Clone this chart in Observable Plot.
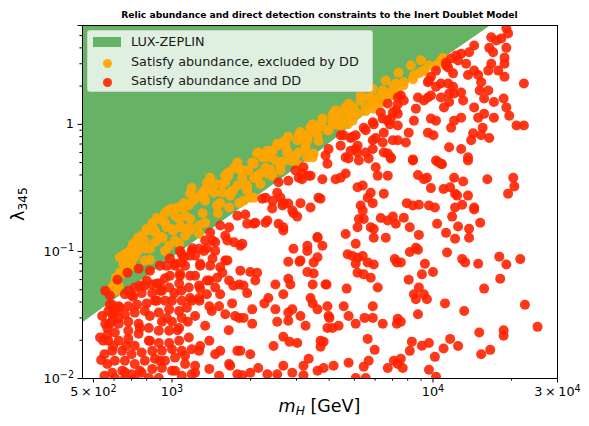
<!DOCTYPE html>
<html><head><meta charset="utf-8">
<script src="https://cdn.jsdelivr.net/npm/d3@7"></script>
<script src="https://cdn.jsdelivr.net/npm/@observablehq/plot@0.6"></script>
<style>
body{margin:0;background:#fff;font-family:"DejaVu Sans",sans-serif;}
#wrap{position:relative;width:589px;height:426px;overflow:hidden;}
#chart{position:absolute;left:0;top:0;}
#chart svg text{font-size:12.8px;font-family:"DejaVu Sans",sans-serif;}
#title{position:absolute;left:82px;width:475px;top:9px;text-align:center;font-weight:bold;font-size:9.2px;color:#000;white-space:nowrap;}
#xlabel{position:absolute;left:82px;width:475px;top:396px;text-align:center;font-size:17.5px;color:#000;white-space:nowrap;}
#ylabel{position:absolute;left:19px;top:204px;transform:translate(-50%,-50%) rotate(-90deg);font-size:17.5px;color:#000;white-space:nowrap;}
sub{font-size:70%;vertical-align:-0.25em;}
#legend{position:absolute;left:87px;top:30px;width:284px;height:60px;background:rgba(255,255,255,0.8);border:1px solid rgba(204,204,204,0.8);border-radius:3px;}
.lrow{position:absolute;left:43px;font-size:12.8px;color:#1a1a1a;white-space:nowrap;line-height:1;}
.patch{position:absolute;left:5px;top:6px;width:28px;height:10px;background:#66b366;}
.dotm{position:absolute;width:9px;height:9px;border-radius:50%;left:15px;}
</style></head><body>
<div id="wrap">
<div id="chart"></div>
<div id="title">Relic abundance and direct detection constraints to the Inert Doublet Model</div>
<div id="xlabel"><i>m</i><sub><i>H</i></sub> [GeV]</div>
<div id="ylabel">λ<sub>345</sub></div>
<div id="legend"></div>
</div>
<script>
// LUX-ZEPLIN excluded region boundary (lower edge)
const luxMass   = [454, 1282, 3710, 6310, 16700];
const luxLambda = [0.0273, 0.128, 0.62, 1.5, 6];

// Satisfy abundance, excluded by DD (orange)
const orangeMass = [
660,720,787,700,645,604,625,
1880,1940,1995,1860,1960,2060,2085,2180,2280,2240,2382,2490,2530,2720,2760,2843,3060,3106,3250,3340,3460,3640,3770,3940,4120,4236,4427,4628,4710,4920,5140,5284,5524,5774,5930,6200,6480,3250,3460,1940,2180,2420,2602,
1780,1730,1655,1600,1400,1360,1190,1282,1450,1560,1671,1780,1810,1655,1490,1340,1310,1270,1270,1160,1090,1122,1065,1000,940,915,1000,915,840,800,765,735,700,672,720,823,975,1065,1122,1173,1090,860,1600,
2120,2320,2760,3020,3300,3490,2602,2320,2060,1880,1630,1560,1710,1940,2060,1530,1430,1325,1173,610,650,710,740,800,840,875,965,1050,1110,1200,1325,631,700,740,787,860,920,1010,1073,1173,955,899,610,590,
6420,7080,7330,5670,5930,4970,4550,4160,4760,4120,3708,3394,3106,3020,2790,2670,2530,2320,2140,3300,3610,4300,
7205,7730,8450,8830,9230,9650,10940,6420,6893,10270,10730,
660,720,787,860,940,1027,1122,1226,1340,1464,1640,1827,2030,2220,2430,2720,3060,3394,3770,4236,4760,5284,5880,6595,7370,8228,8990,
1671,1910,2130,2382,2650,2970,3250,3640,3980,4427,4920,5524,6200,6893,7700,8380,9150,823,940,1027,1173,1340,1500,631
];
const orangeLambda = [
0.095,0.090,0.085,0.077,0.067,0.056,0.054,
0.251,0.30,0.265,0.38,0.433,0.49,0.38,0.41,0.455,0.57,0.60,0.52,0.70,0.75,0.62,0.52,0.60,0.80,0.75,0.84,1.0,0.94,1.07,0.90,1.17,1.0,1.11,1.36,1.0,1.17,1.21,1.54,1.36,1.60,1.33,1.63,1.73,0.64,0.55,0.33,0.34,0.395,0.474,
0.50,0.455,0.42,0.395,0.38,0.345,0.315,0.275,0.29,0.29,0.29,0.33,0.24,0.222,0.23,0.251,0.20,0.160,0.138,0.23,0.222,0.191,0.181,0.218,0.20,0.175,0.150,0.130,0.168,0.150,0.133,0.118,0.106,0.097,0.097,0.105,0.111,0.115,0.133,0.155,0.155,0.141,0.35,
0.59,0.55,0.60,0.49,0.55,0.59,0.433,0.41,0.38,0.433,0.41,0.34,0.30,0.315,0.265,0.24,0.30,0.265,0.285,0.062,0.080,0.115,0.128,0.146,0.160,0.183,0.21,0.222,0.24,0.251,0.30,0.090,0.085,0.101,0.106,0.118,0.128,0.146,0.155,0.181,0.155,0.128,0.049,0.052,
1.85,2.02,1.75,1.63,1.46,1.36,1.29,1.22,1.17,1.04,0.98,0.94,0.87,0.75,0.80,0.72,0.68,0.62,0.60,0.75,0.82,1.04,
2.10,2.15,2.42,2.52,2.65,2.91,3.33,1.50,1.78,2.91,3.18,
0.079,0.0965,0.120,0.146,0.168,0.190,0.227,0.26,0.30,0.34,0.39,0.44,0.50,0.55,0.62,0.69,0.82,0.94,1.11,1.29,1.45,1.69,1.90,2.21,2.55,2.91,3.2,
0.275,0.33,0.395,0.44,0.51,0.57,0.68,0.74,0.90,0.98,1.07,1.27,1.47,1.69,2.02,2.27,2.63,0.086,0.101,0.122,0.146,0.168,0.20,0.068
];

// Satisfy abundance and DD (red)
const redMass = [
1173,1226,1282,1122,1027,982,1073,1173,940,899,840,787,720,680,660,700,765,840,915,975,1065,1020,1085,1160,1270,1390,1464,1360,1270,1190,1090,1000,940,860,800,735,680,625,590,570,604,660,720,787,890,975,1065,1140,1226,1390,1515,1600,1700,1810,1655,1600,1810,
590,565,625,680,745,815,915,1000,1090,890,975,1065,745,680,604,570,625,680,720,815,890,975,1065,1160,1390,1190,1270,1090,1000,915,840,765,700,645,590,551,565,604,660,720,787,860,940,1027,1122,1226,1390,1464,1655,1780,1780,1515,1190,1000,915,840,765,700,645,590,551,604,660,720,815,890,1090,530,535,540,
2670,1860,2920,3300,3300,3610,3610,2790,3080,3490,3300,3490,1995,2120,1880,1940,2085,2490,2790,2843,3460,3910,2670,2340,2260,3394,3460,3610,3940,2030,2490,2790,2890,3106,3250,3980,4010,4120,4350,4550,4750,5056,5470,5880,5880,6420,7330,7270,1880,2030,2530,2790,2670,2820,3020,2450,3810,3708,5620,5980,1995,3340,3190,3610,3810,4160,4750,5430,5670,6710,7080,7330,2140,1995,2320,2530,2670,2890,3190,5056,5524,4628,5056,4710,4920,5140,5056,5380,5620,5930,5140,5430,5774,6140,4670,5930,6595,7140,7270,1827,1860,
8380,10450,10830,13620,8760,9230,9480,12050,13050,16150,20300,20500,19400,9822,10980,11630,12150,12370,13620,7940,8380,8830,9650,10170,12150,12940,14380,14380,7730,8150,8830,10370,11220,11840,12480,12150,13750,13750,15170,8150,8600,8760,11320,12940,13280,14900,17950,19100,21600,18100,15700,7531,9310,10000,9070,8070,8830,8450,8600,9480,9230,11120,13170,22500,7531,8760,15040,18650,18650,25150,11630,12480,10980,10170,9650,9070,8300,8150,7531,7660,9650,10270,15300,16570,
4427,4920,5056,5524,5930,6420,6710,7330,7020,6830,7330,6480,7020,6420,5880,3980,3876,3940,4628,4750,4837,5056,5140,5200,5524,5670,5880,6036,6480,6710,6893,2972,3190,3060,3330,3150,3770,4236,4427,4628,2560,2790,2530,2280,2220,2430,2602,2650,2420,2790,2890,3020,3106,3394,3708,3640,1910,1940,2060,2280,2560,2670,5140,5380,5774,5880,5284,5380,5430,5200,5140,5774,5930,6309,6710,7020,7205,6480,5620,6710,6140,
1780,1655,1530,1400,1600,1464,1360,1270,1190,1730,1827,1090,
3150,3394,2670,2920,2085,2320,3610,3770,3106,3876,3708,3940,1630,1430,1325,1200,1073,1110,955,1027,1073,800,875,753,710,875,1173,1282,1360,1490,1530,1630,1430,1282,578,590,578,565,631,
7330,6309,7205,6893,5880,5430,6036,4837,5140,4550,4427,7330,7330,
19100,19400,18270,16720,17480,16430,17000,19100,14380,13750,12820,12260,11730,11220,11430,12480,13400,11940,10270,9822,9560,10270,10730,11430,11940,12050,12820,13050,13620,14380,14900,16290,17790,18800,18800,18800,16720,15300,16290,15100,15700,17120,18650,19100,19600,20900,22300,22300,15700,17120,14900,14250,15300,16430,15500,14000,11730,12050,12820,14380,9822,10270,8450,8070,7873,9560,10040,11530,12820,13620,10730,10270,8380,6893,6710,8760,7531,7730,8600,9560,9230,9822,9650,11220,11530,11530,11020,10730,
578,625,668,595,753,823,899,955,1050,1150,1275,1340,1420,1530,1650,1745,1282,1530,1671,1122,823,660,753,899,1027,1226,555,545,555,618,675,745,823,899,982,1085,1226,1400,1560,1720,1827,1464,1340
];
const redLambda = [
0.0927,0.0927,0.0773,0.0773,0.0773,0.0644,0.0644,0.0644,0.0615,0.056,0.055,0.0538,0.052,0.049,0.046,0.045,0.047,0.047,0.049,0.052,0.056,0.047,0.049,0.052,0.054,0.059,0.052,0.046,0.043,0.041,0.041,0.041,0.041,0.041,0.039,0.038,0.037,0.037,0.038,0.034,0.033,0.032,0.033,0.034,0.033,0.035,0.034,0.036,0.031,0.037,0.037,0.032,0.039,0.055,0.059,0.085,0.030,
0.0285,0.025,0.027,0.028,0.027,0.025,0.028,0.028,0.030,0.0238,0.0238,0.025,0.0225,0.0238,0.023,0.0198,0.0198,0.0205,0.0181,0.0198,0.019,0.019,0.0198,0.021,0.0198,0.017,0.0165,0.0165,0.017,0.0165,0.0165,0.016,0.0155,0.0165,0.0165,0.0155,0.013,0.0138,0.0138,0.013,0.0138,0.0143,0.0138,0.0146,0.013,0.0126,0.0119,0.0155,0.013,0.0165,0.0108,0.0105,0.0108,0.0115,0.0121,0.0119,0.0111,0.0108,0.0115,0.0111,0.0105,0.0101,0.0100,0.0100,0.0101,0.0101,0.0105,0.021,0.014,0.031,
0.146,0.115,0.105,0.111,0.101,0.128,0.090,0.083,0.083,0.082,0.069,0.067,0.069,0.068,0.054,0.047,0.059,0.055,0.061,0.055,0.055,0.055,0.046,0.043,0.039,0.043,0.039,0.035,0.037,0.035,0.035,0.033,0.035,0.031,0.026,0.031,0.030,0.025,0.026,0.037,0.031,0.027,0.030,0.037,0.030,0.027,0.0295,0.027,0.030,0.027,0.028,0.0285,0.0213,0.0195,0.019,0.018,0.0195,0.0178,0.0205,0.0168,0.0155,0.0143,0.0126,0.0115,0.0121,0.0126,0.0133,0.0124,0.0138,0.0121,0.0138,0.013,0.0121,0.0111,0.0108,0.0108,0.0126,0.0111,0.0106,0.0101,0.0101,0.137,0.115,0.095,0.092,0.089,0.080,0.092,0.082,0.079,0.068,0.066,0.062,0.052,0.051,0.128,0.128,0.087,0.082,0.0165,0.0106,
0.52,0.505,0.485,0.52,0.40,0.37,0.38,0.38,0.355,0.37,0.38,0.325,0.285,0.315,0.31,0.32,0.285,0.275,0.275,0.24,0.23,0.233,0.23,0.222,0.222,0.233,0.222,0.214,0.184,0.155,0.135,0.165,0.140,0.188,0.157,0.126,0.151,0.128,0.168,0.099,0.107,0.103,0.098,0.087,0.082,0.080,0.091,0.079,0.087,0.061,0.051,0.082,0.080,0.069,0.066,0.060,0.052,0.046,0.042,0.042,0.046,0.039,0.034,0.038,0.028,0.032,0.023,0.024,0.0217,0.0255,0.0205,0.018,0.0172,0.0148,0.019,0.0181,0.0195,0.0165,0.0143,0.0121,0.0117,0.0103,0.0155,0.0168,
0.82,0.80,0.82,0.90,1.0,1.11,1.46,1.44,1.24,1.0,1.21,0.86,0.75,0.72,0.75,0.64,0.57,0.49,0.55,0.54,0.62,0.64,0.60,0.52,0.60,0.54,0.64,0.46,0.60,0.59,0.54,0.433,0.46,0.38,0.395,0.37,0.37,0.37,0.38,0.41,0.35,0.36,0.29,0.265,0.26,0.25,0.265,0.23,0.218,0.238,0.21,0.188,0.24,0.222,0.26,0.265,0.195,0.165,0.165,0.168,0.165,0.155,0.32,0.33,0.29,0.24,0.23,0.21,0.18,0.18,0.155,0.155,0.15,0.183,0.175,0.188,0.165,0.285,0.265,0.395,0.395,
0.191,0.155,0.160,0.141,0.133,0.118,0.106,0.105,0.101,0.118,0.111,0.095,
0.41,0.395,0.24,0.20,0.168,0.175,0.13,0.111,0.085,0.055,0.0198,0.025,0.122,0.122,0.101,0.106,0.101,0.090,0.077,0.080,0.067,0.059,0.056,0.054,0.044,0.041,0.043,0.051,0.059,0.062,0.075,0.085,0.088,0.080,0.038,0.032,0.027,0.022,0.036,
1.63,1.24,1.29,1.11,1.04,0.94,0.78,0.78,0.68,0.82,0.68,0.98,0.75,
5.7,5.2,4.75,4.85,4.57,4.0,3.7,4.0,4.18,3.7,3.6,3.48,3.3,3.06,2.8,3.18,3.0,2.52,2.65,2.37,2.15,1.98,2.10,2.10,1.98,1.75,1.78,1.54,2.45,2.65,2.45,2.65,2.65,3.35,3.0,2.37,3.0,2.15,1.85,1.85,1.60,1.50,1.60,1.36,1.17,0.98,0.98,2.10,1.21,1.13,1.13,0.85,0.82,0.78,0.94,0.75,0.94,1.07,1.13,1.36,1.11,1.07,1.07,0.86,0.72,0.86,0.82,0.66,0.64,0.55,0.49,0.52,0.53,0.55,1.07,1.63,1.69,1.54,1.33,1.63,1.54,1.69,2.21,2.91,1.50,1.75,1.36,1.63,
0.045,0.030,0.018,0.018,0.025,0.031,0.049,0.030,0.024,0.028,0.041,0.026,0.034,0.046,0.024,0.031,0.018,0.0165,0.0126,0.0151,0.0198,0.0112,0.0115,0.0138,0.0115,0.0111,0.027,0.0198,0.049,0.060,0.068,0.073,0.0706,0.0773,0.088,0.082,0.0644,0.0773,0.068,0.0538,0.0706,0.101,0.122
];

// Axis ticks (base^exponent)
const xTicks = [500, 1000, 10000, 30000];
const xTickLabels = ["5\u2009×\u200910^2", "10^3", "10^4", "3\u2009×\u200910^4"];
const xMinor = [600,700,800,900,2000,3000,4000,5000,6000,7000,8000,9000,20000];
const yTicks = [0.01, 0.1, 1, 6];
const yTickLabels = ["10^−2", "10^−1", "1", "6"];
const yMinor = [0.02,0.03,0.04,0.05,0.06,0.07,0.08,0.09,0.2,0.3,0.4,0.5,0.6,0.7,0.8,0.9,2,3,4,5];

// Legend entries
const legendLabels = ["LUX-ZEPLIN", "Satisfy abundance, excluded by DD", "Satisfy abundance and DD"];

const colGreen = "#66b366", colOrange = "#ffa500", colRed = "#ff2200";

const lux = luxMass.map((m, i) => ({m, l: luxLambda[i]}));
const orange = orangeMass.map((m, i) => ({m, l: orangeLambda[i]})).filter(d => d.l !== undefined);
const red = redMass.map((m, i) => ({m, l: redLambda[i]})).filter(d => d.l !== undefined);
const yTop = yTicks[yTicks.length - 1];
const xFmt = new Map(xTicks.map((t, i) => [t, xTickLabels[i]]));
const yFmt = new Map(yTicks.map((t, i) => [t, yTickLabels[i]]));

const chart = Plot.plot({
  width: 589, height: 426,
  marginTop: 25, marginBottom: 48, marginLeft: 82, marginRight: 32,
  x: {type: "log", domain: [454, 30000]},
  y: {type: "log", domain: [0.01, 6]},
  style: {fontFamily: "DejaVu Sans", fontSize: "12.8px", color: "black", background: "transparent"},
  marks: [
    Plot.areaY(lux, {x: "m", y1: "l", y2: () => yTop, fill: colGreen, clip: true}),
    Plot.dot(orange, {x: "m", y: "l", r: 5, fill: colOrange, fillOpacity: 0.92, stroke: "none", clip: true}),
    Plot.dot(red, {x: "m", y: "l", r: 5, fill: colRed, fillOpacity: 0.9, stroke: "none", clip: true}),
    Plot.axisX({ticks: xMinor, tickSize: 2.6, tickFormat: () => "", label: null}),
    Plot.axisX({ticks: xTicks, tickSize: 4.5, tickPadding: 4, tickFormat: d => xFmt.get(d), label: null}),
    Plot.axisY({ticks: yMinor, tickSize: 2.6, tickFormat: () => "", label: null}),
    Plot.axisY({ticks: yTicks, tickSize: 4.5, tickPadding: 4, tickFormat: d => yFmt.get(d), label: null}),
    Plot.frame({stroke: "black", strokeWidth: 1})
  ]
});
document.getElementById("chart").appendChild(chart);

// Render "base^exp" tick labels with real superscripts
d3.select(chart).selectAll("text").each(function() {
  const t = d3.select(this);
  const s = t.text();
  if (!s.includes("^")) return;
  const [base, exp] = s.split("^");
  t.text(null);
  t.append("tspan").text(base);
  t.append("tspan").attr("dy", "-0.45em").style("font-size", "9.6px").text(exp);
});

// Legend
const leg = document.getElementById("legend");
const rowsY = [5, 25, 44];
const patch = document.createElement("div"); patch.className = "patch"; leg.appendChild(patch);
[colOrange, colRed].forEach((c, i) => {
  const d = document.createElement("div"); d.className = "dotm";
  d.style.background = c; d.style.opacity = 0.9; d.style.top = (rowsY[i + 1] + 2.5) + "px";
  leg.appendChild(d);
});
legendLabels.forEach((t, i) => {
  const s = document.createElement("div"); s.className = "lrow";
  s.style.top = rowsY[i] + "px"; s.textContent = t; leg.appendChild(s);
});
</script>
</body></html>
